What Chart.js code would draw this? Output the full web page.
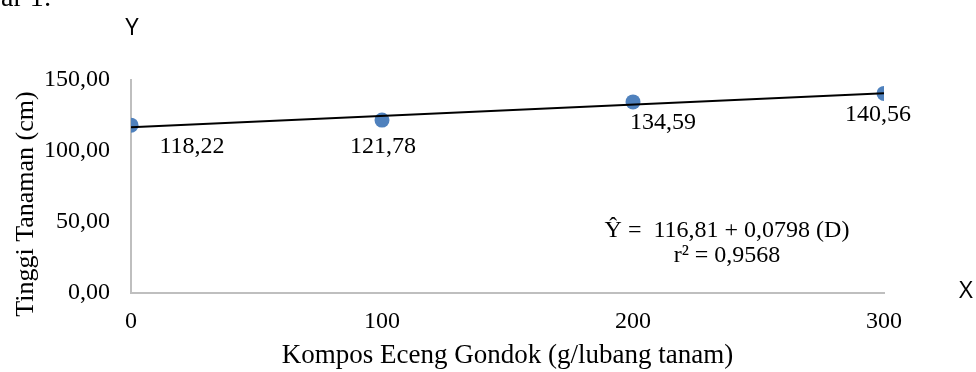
<!DOCTYPE html>
<html>
<head>
<meta charset="utf-8">
<script src="https://cdn.jsdelivr.net/npm/chart.js@4/dist/chart.umd.min.js"></script>
<style>
  html, body { margin: 0; padding: 0; background: #ffffff; }
  #wrap { width: 976px; height: 372px; }
</style>
</head>
<body>
<div id="wrap"><canvas id="chart" width="976" height="372"></canvas></div>
<script>
// Compost dose (g per planting hole) and mean plant height (cm)
const doses = [0, 100, 200, 300];
const heights = [118.22, 121.78, 134.59, 140.56];
const xTicks = [0, 100, 200, 300];
const yTicks = [0, 50, 100, 150];

// Linear regression of height on dose
const intercept = 116.81;
const slope = 0.0798;
const rSquared = 0.9568;

const SERIF = '"Liberation Serif", "Times New Roman", serif';
const SANS = '"Open Sans", "Liberation Sans", sans-serif';

const comma = (v, d) => v.toFixed(d).replace('.', ',');

const points = doses.map((d, i) => ({ x: d, y: heights[i] }));
const xMin = doses[0], xMax = doses[doses.length - 1];
const trend = [
  { x: xMin, y: intercept + slope * xMin },
  { x: xMax, y: intercept + slope * xMax }
];

// label offsets (px) from each marker to the baseline-centre of its value text
const labelOffsets = [[61, 28], [1, 33], [30, 27], [-6, 28]];

const annotations = {
  id: 'annotations',
  afterDatasetsDraw(chart) {
    const { ctx } = chart;
    const xs = chart.scales.x, ys = chart.scales.y;
    ctx.save();
    ctx.fillStyle = '#000000';

    // value labels next to the markers
    ctx.font = '24px ' + SERIF;
    ctx.textAlign = 'center';
    ctx.textBaseline = 'alphabetic';
    const meta = chart.getDatasetMeta(1);
    meta.data.forEach((pt, i) => {
      const [dx, dy] = labelOffsets[i];
      ctx.fillText(comma(heights[i], 2), pt.x + dx, pt.y + dy);
    });

    // regression equation and coefficient of determination
    ctx.fillText('\u0176 =  ' + comma(intercept, 2) + ' + ' + comma(slope, 4) + ' (D)', 727, 237);
    ctx.fillText('r\u00B2 = ' + comma(rSquared, 4), 727, 262);

    // vertical axis title
    ctx.save();
    ctx.font = '26px ' + SERIF;
    ctx.translate(33, 204);
    ctx.rotate(-Math.PI / 2);
    ctx.textAlign = 'center';
    ctx.fillText('Tinggi Tanaman (cm)', 0, 0);
    ctx.restore();

    // axis letters
    ctx.font = '24px ' + SANS;
    ctx.textAlign = 'center';
    ctx.textBaseline = 'alphabetic';
    ctx.fillText('Y', 132, 35);
    ctx.fillText('X', 966, 298);

    // caption fragment at the top edge
    ctx.font = '28px ' + SERIF;
    ctx.textAlign = 'left';
    ctx.fillText('ar 1:', 1, 6);

    ctx.restore();
  }
};

new Chart(document.getElementById('chart'), {
  type: 'scatter',
  data: {
    datasets: [
      {
        label: 'Trend',
        data: trend,
        showLine: true,
        borderColor: '#000000',
        borderWidth: 2,
        pointRadius: 0,
        fill: false,
        order: 0
      },
      {
        label: 'Tinggi Tanaman',
        data: points,
        showLine: false,
        pointRadius: 7.5,
        pointBackgroundColor: '#4f81bd',
        pointBorderColor: '#4f81bd',
        pointBorderWidth: 0,
        order: 1
      }
    ]
  },
  options: {
    responsive: false,
    animation: false,
    devicePixelRatio: 1,
    layout: { padding: { left: 0, top: 80, right: 92, bottom: 0 } },
    plugins: {
      legend: { display: false },
      tooltip: { enabled: false },
      title: { display: false }
    },
    scales: {
      x: {
        type: 'linear',
        position: 'bottom',
        min: xMin,
        max: xMax,
        afterBuildTicks: s => { s.ticks = xTicks.map(v => ({ value: v })); },
        afterFit: s => { s.height = 79; },
        grid: { display: false, drawTicks: false },
        border: { display: true, color: '#bfbfbf', width: 2 },
        ticks: {
          color: '#000000',
          font: { family: SERIF, size: 24 },
          padding: 14,
          maxRotation: 0,
          callback: v => String(v)
        },
        title: {
          display: true,
          text: 'Kompos Eceng Gondok (g/lubang tanam)',
          color: '#000000',
          font: { family: SERIF, size: 27 },
          padding: { top: 0, bottom: 0 }
        }
      },
      y: {
        type: 'linear',
        min: 0,
        max: 150,
        afterBuildTicks: s => { s.ticks = yTicks.map(v => ({ value: v })); },
        afterFit: s => { s.width = 131; },
        grid: { display: false, drawTicks: false },
        border: { display: true, color: '#bfbfbf', width: 2 },
        ticks: {
          color: '#000000',
          font: { family: SERIF, size: 24 },
          padding: 21,
          callback: v => comma(v, 2)
        }
      }
    }
  },
  plugins: [annotations]
});
</script>
</body>
</html>
